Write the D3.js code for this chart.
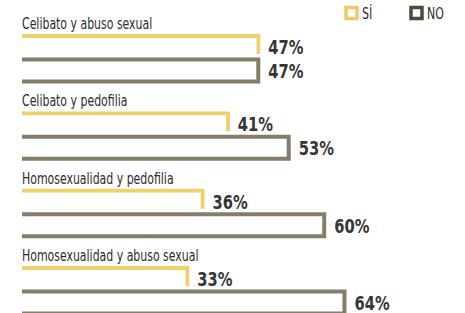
<!DOCTYPE html>
<html>
<head>
<meta charset="utf-8">
<script src="https://cdn.jsdelivr.net/npm/d3@7"></script>
<style>
  body { margin: 0; background: #fff; }
  text { font-family: "DejaVu Sans Condensed", "DejaVu Sans", sans-serif; font-stretch: condensed; }
</style>
</head>
<body>
<svg id="chart"></svg>
<script>
// datos
const categories = ["Celibato y abuso sexual", "Celibato y pedofilia", "Homosexualidad y pedofilia", "Homosexualidad y abuso sexual"];
const siValues = [47, 41, 36, 33];
const noValues = [47, 53, 60, 64];
const legendLabels = ["SÍ", "NO"];

const width = 465, height = 313;
const colors = { si: "#f0d06a", no: "#857c69" };
const sx = 0.76; // letra estrecha

const svg = d3.select("#chart")
    .attr("width", width)
    .attr("height", height);

const x = d3.scaleLinear()
    .domain([0, 100])
    .range([22, 529]);

// posición de cada grupo (línea base del título)
const y = d3.scalePoint()
    .domain(categories)
    .range([29, 261]);

const rows = categories.map((c, i) => ({ cat: c, si: siValues[i], no: noValues[i] }));

const g = svg.selectAll(".grupo")
    .data(rows)
    .enter().append("g")
    .attr("class", "grupo")
    .attr("transform", d => "translate(0," + y(d.cat) + ")");

g.append("text")
    .attr("transform", "scale(" + sx + ",1)")
    .attr("x", 22 / sx)
    .attr("y", 0)
    .attr("font-size", 16)
    .attr("fill", "#2b2b2b")
    .text(d => d.cat);

// barra SÍ: línea superior y borde derecho
g.append("path")
    .attr("fill", "none")
    .attr("stroke", colors.si)
    .attr("stroke-width", 3.8)
    .attr("d", d => {
        const top = 7, bottom = 25;
        return "M" + x(0) + "," + top + "H" + (x(d.si) - 1.9) + "V" + bottom;
    });

// barra NO: arriba, derecha, abajo
g.append("path")
    .attr("fill", "none")
    .attr("stroke", colors.no)
    .attr("stroke-width", 4)
    .attr("d", d => {
        const top = 30.5, bottom = 52.5;
        return "M" + x(0) + "," + top + "H" + (x(d.no) - 2) + "V" + bottom + "H" + x(0);
    });

const sl = 0.86;
g.append("text")
    .attr("transform", "scale(" + sl + ",1)")
    .attr("x", d => (x(d.si) + 8) / sl)
    .attr("y", 25)
    .attr("font-size", 19)
    .attr("font-weight", "bold")
    .attr("fill", "#363636")
    .text(d => d.si + "%");

g.append("text")
    .attr("transform", "scale(" + sl + ",1)")
    .attr("x", d => (x(d.no) + 8) / sl)
    .attr("y", 49)
    .attr("font-size", 19)
    .attr("font-weight", "bold")
    .attr("fill", "#363636")
    .text(d => d.no + "%");

// leyenda
const legend = svg.append("g");
const legendX = [346, 411];
legendLabels.forEach((lab, i) => {
    legend.append("rect")
        .attr("x", legendX[i])
        .attr("y", 7.5)
        .attr("width", 11)
        .attr("height", 11)
        .attr("fill", "none")
        .attr("stroke", i === 0 ? "#efc86a" : "#4e493f")
        .attr("stroke-width", 3.5);
    legend.append("text")
        .attr("transform", "scale(" + sx + ",1)")
        .attr("x", (legendX[i] + 16) / sx)
        .attr("y", 19)
        .attr("font-size", 16)
        .attr("fill", "#2b2b2b")
        .text(lab);
});
</script>
</body>
</html>
